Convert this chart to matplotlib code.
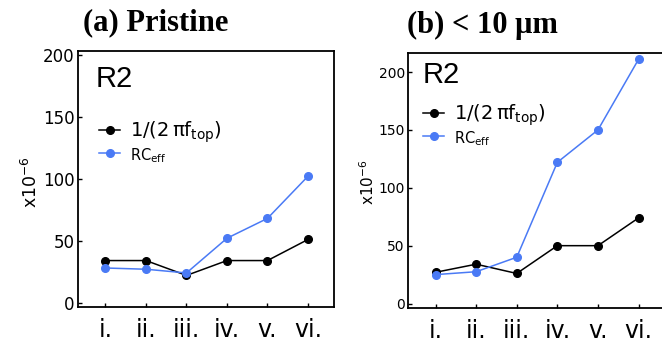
import numpy as np
import matplotlib.pyplot as plt

labels = ['i.', 'ii.', 'iii.', 'iv.', 'v.', 'vi.']

# panel (a) pristine
a_top = [34, 34, 22, 34, 34, 51]
a_rc = [28, 27, 24, 52, 68, 102]

# panel (b) < 10 um
b_top = [27, 34, 26, 50, 50, 74]
b_rc = [25, 27.5, 40, 122, 150, 211]

blue = '#4a7af5'
sans = 'DejaVu Sans'

fig = plt.figure(figsize=(6.62, 3.47), dpi=100)

def px(x, y):
    return x / 662, 1 - y / 347

def panel(pos, top, rc, ylim, r2_xy, leg_xy, ysize):
    ax = fig.add_axes(pos)
    x = np.arange(len(labels))
    ax.plot(x, top, '-o', color='black', lw=1.1, ms=5.5, label=r'$\mathregular{1/(2\,\pi f_{top})}$')
    ax.plot(x, rc, '-o', color=blue, lw=1.1, ms=5.5, label=r'RC$\mathregular{_{eff}}$')
    ax.set_xlim(-0.67, 5.65)
    ax.set_ylim(*ylim)
    ax.set_xticks(x)
    ax.set_xticklabels(labels, fontsize=17, family=sans)
    yt = [0, 50, 100, 150, 200]
    ax.set_yticks(yt)
    ax.set_yticklabels([str(t) for t in yt], fontsize=ysize, family=sans)
    ax.tick_params(axis='x', direction='in', length=3, width=1, pad=8)
    ax.tick_params(axis='y', direction='in', length=3, width=1, pad=2.5)
    for s in ax.spines.values():
        s.set_linewidth(1.3)
    fig.text(*px(*r2_xy), 'R2', fontsize=21, family='Liberation Sans', va='top', ha='left')
    leg = ax.legend(loc='center left', bbox_to_anchor=px(*leg_xy),
                    bbox_transform=fig.transFigure, frameon=False,
                    handlelength=1.1, handletextpad=0.5, labelspacing=0.05,
                    borderaxespad=0, borderpad=0, prop={'family': sans, 'size': 14})
    leg.get_texts()[1].set_fontsize(10.5)
    return ax

panel([0.1183, 0.1144, 0.3867, 0.7386], a_top, a_rc, (-3.7, 203), (96, 65), (99, 142), 12)
panel([0.6168, 0.1115, 0.3877, 0.7367], b_top, b_rc, (-4.1, 216.7), (423, 61), (423, 125), 10)

fig.text(*px(83, 23), '(a) Pristine', fontsize=22, fontweight='bold',
         family='Liberation Serif', ha='left', va='center')
fig.text(*px(407, 25), '(b) < 10 \u03bcm', fontsize=22, fontweight='bold',
         family='Liberation Serif', ha='left', va='center')
fig.text(*px(31, 182), r'x10$^{\mathregular{-6}}$', rotation=90, fontsize=12.5,
         family=sans, ha='center', va='center')
fig.text(*px(368, 182), r'x10$^{\mathregular{-6}}$', rotation=90, fontsize=11,
         family=sans, ha='center', va='center')

fig.savefig('out.png', dpi=100)
